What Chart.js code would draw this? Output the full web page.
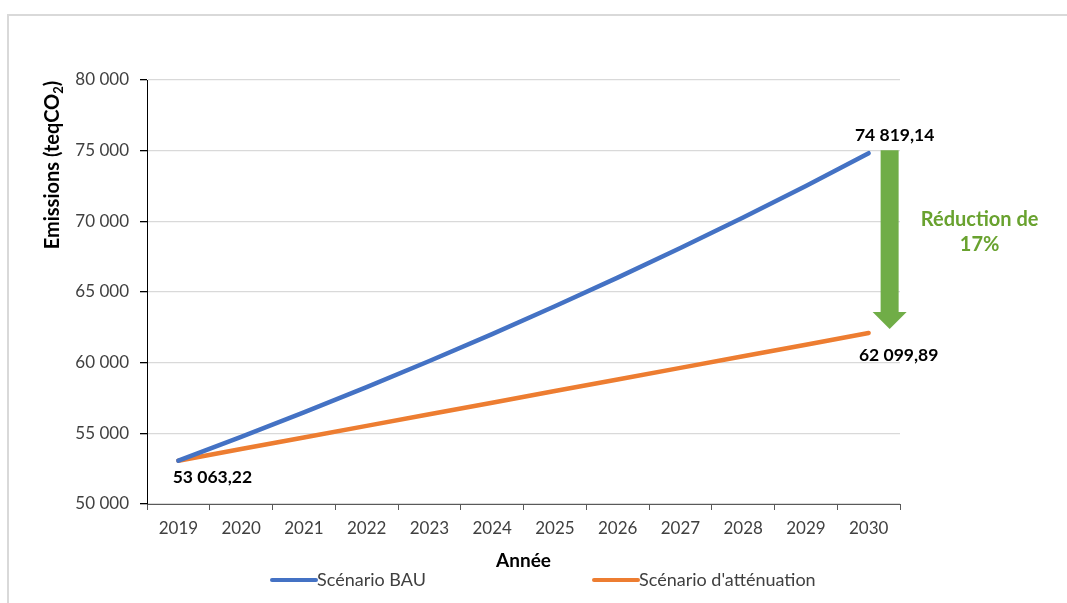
<!DOCTYPE html>
<html lang="fr">
<head>
<meta charset="utf-8">
<title>Emissions 2019-2030</title>
<script src="https://cdn.jsdelivr.net/npm/chart.js@4.4.1/dist/chart.umd.min.js"></script>
<style>
  html, body { margin: 0; padding: 0; background: #fff; }
  #wrap { position: relative; width: 1067px; height: 603px; overflow: hidden; }
  #frame { position: absolute; left: 7px; top: 14px; width: 1100px; height: 700px;
           border-left: 2px solid #d9d9d9; border-top: 2px solid #d9d9d9; }
  #chart { position: absolute; left: 0; top: 0; }
</style>
</head>
<body>
<div id="wrap">
  <div id="frame"></div>
  <canvas id="chart" width="1067" height="603"></canvas>
</div>
<script>
var years = ['2019', '2020', '2021', '2022', '2023', '2024', '2025', '2026', '2027', '2028', '2029', '2030'];
var bau = [53063.22, 54745, 56480, 58270, 60117, 62023, 63989, 66017, 68110, 70269, 72496, 74819.14];
var attenuation = [53063.22, 53890, 54710, 55530, 56350, 57170, 57990, 58810, 59630, 60450, 61270, 62099.89];
var seriesNames = ['Scénario BAU', "Scénario d'atténuation"];
var yTicks = [50000, 55000, 60000, 65000, 70000, 75000, 80000];

var BLUE = '#4472C4';
var ORANGE = '#ED7D31';
var GREEN = '#70AD47';
var TEXT = '#404040';
var FONT = 'Lato, "Noto Sans", sans-serif';

// 80000 -> "80 000", 74819.14 -> "74 819,14"
function group(n) {
  return String(n).replace(/\B(?=(\d{3})+(?!\d))/g, ' ');
}
function fmt2(v) {
  var parts = v.toFixed(2).split('.');
  return group(parts[0]) + ',' + parts[1];
}

// labels, arrow, axis titles and legend drawn on top of the chart
var extras = {
  id: 'extras',
  afterDatasetsDraw: function (chart) {
    var c = chart.ctx;
    var x = chart.scales.x, y = chart.scales.y;
    var last = years.length - 1;
    var x0 = x.getPixelForValue(0), x1 = x.getPixelForValue(last);
    var yTop = y.getPixelForValue(bau[last]);
    var yBot = y.getPixelForValue(attenuation[last]);

    c.save();
    c.fillStyle = '#000';
    c.font = 'bold 17.5px ' + FONT;
    c.textAlign = 'center';
    c.textBaseline = 'middle';
    c.fillText(fmt2(bau[last]), x1 + 26, yTop - 18);
    c.fillText(fmt2(attenuation[last]), x1 + 30, yBot + 22);
    c.fillText(fmt2(bau[0]), x0 + 34, y.getPixelForValue(bau[0]) + 17);

    // reduction arrow between the two end values
    var ax = x1 + 21;
    var top = yTop - 3, tip = yBot - 4, headH = 17;
    c.fillStyle = GREEN;
    c.beginPath();
    c.moveTo(ax - 9, top);
    c.lineTo(ax + 9, top);
    c.lineTo(ax + 9, tip - headH);
    c.lineTo(ax + 17, tip - headH);
    c.lineTo(ax, tip);
    c.lineTo(ax - 17, tip - headH);
    c.lineTo(ax - 9, tip - headH);
    c.closePath();
    c.fill();

    var pct = Math.round((1 - attenuation[last] / bau[last]) * 100);
    c.fillStyle = '#69A22F';
    c.font = 'bold 20px ' + FONT;
    c.fillText('Réduction de', ax + 90, 220);
    c.fillText(pct + '%', ax + 90, 245);

    // x axis title
    c.fillStyle = '#000';
    c.font = 'bold 19px ' + FONT;
    c.fillText('Année', (chart.chartArea.left + chart.chartArea.right) / 2, 561);

    // y axis title with subscript
    c.translate(53, 165);
    c.rotate(-Math.PI / 2);
    c.textAlign = 'left';
    var main = 'Emissions (teqCO';
    c.font = 'bold 20px ' + FONT;
    var w1 = c.measureText(main).width;
    c.font = 'bold 13px ' + FONT;
    var w2 = c.measureText('2').width;
    c.font = 'bold 20px ' + FONT;
    var w3 = c.measureText(')').width;
    var sx = -(w1 + w2 + w3) / 2;
    c.fillText(main, sx, 0);
    c.font = 'bold 13px ' + FONT;
    c.fillText('2', sx + w1, 6);
    c.font = 'bold 20px ' + FONT;
    c.fillText(')', sx + w1 + w2, 0);
    c.restore();

    // legend
    c.save();
    c.font = '18px ' + FONT;
    c.textBaseline = 'middle';
    c.fillStyle = TEXT;
    c.lineWidth = 4;
    c.lineCap = 'round';
    var legendX = [272, 594];
    var colors = [BLUE, ORANGE];
    for (var i = 0; i < seriesNames.length; i++) {
      c.strokeStyle = colors[i];
      c.beginPath();
      c.moveTo(legendX[i], 580);
      c.lineTo(legendX[i] + 44, 580);
      c.stroke();
      c.fillText(seriesNames[i], legendX[i] + 45, 580);
    }
    c.restore();
  }
};

var ctx = document.getElementById('chart').getContext('2d');
var chart = new Chart(ctx, {
  type: 'line',
  data: {
    labels: years,
    datasets: [
      {
        label: seriesNames[0],
        data: bau,
        borderColor: BLUE,
        backgroundColor: BLUE,
        borderWidth: 4.5,
        pointRadius: 0,
        borderCapStyle: 'round',
        tension: 0
      },
      {
        label: seriesNames[1],
        data: attenuation,
        borderColor: ORANGE,
        backgroundColor: ORANGE,
        borderWidth: 4.5,
        pointRadius: 0,
        borderCapStyle: 'round',
        tension: 0
      }
    ]
  },
  options: {
    responsive: false,
    animation: false,
    layout: { padding: { top: 80, right: 167, left: 0, bottom: 0 } },
    plugins: {
      legend: { display: false },
      tooltip: { enabled: false }
    },
    scales: {
      x: {
        offset: true,
        grid: { offset: true, drawOnChartArea: false, tickLength: 6, tickColor: '#595959' },
        border: { color: '#595959', width: 1 },
        ticks: { color: TEXT, font: { family: FONT, size: 17 }, padding: 8, maxRotation: 0 },
        afterFit: function (s) { s.height = 99; }
      },
      y: {
        min: 50000,
        max: 80000,
        afterBuildTicks: function (s) { s.ticks = yTicks.map(function (v) { return { value: v }; }); },
        grid: { color: '#d9d9d9', lineWidth: 1.3, tickLength: 7, tickColor: '#000' },
        border: { color: '#000', width: 1 },
        ticks: {
          color: TEXT,
          font: { family: FONT, size: 17 },
          padding: 11,
          callback: function (v) { return group(v); }
        },
        afterFit: function (s) { s.width = 147; }
      }
    }
  },
  plugins: [extras]
});
</script>
</body>
</html>
